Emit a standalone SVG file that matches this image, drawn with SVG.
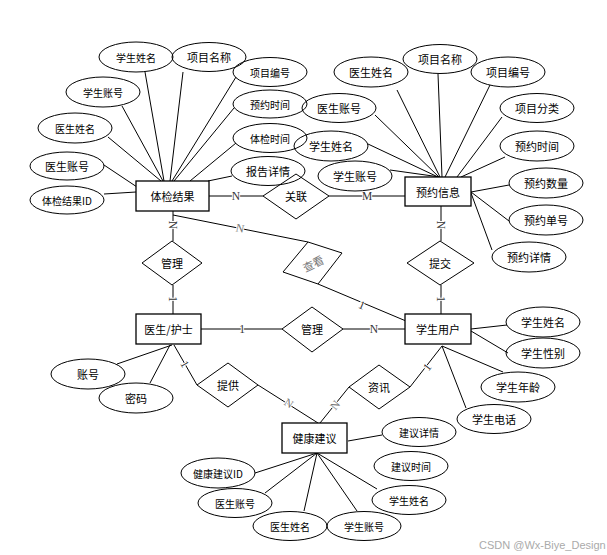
<svg xmlns="http://www.w3.org/2000/svg" width="607" height="555" viewBox="0 0 607 555">
<style>
.e{fill:none;stroke:#000;stroke-width:1}
.r{fill:#fff;stroke:#000;stroke-width:1.3}
.d{fill:none;stroke:#000;stroke-width:1}
.l line,.l polyline{stroke:#000;stroke-width:1;fill:none}
text{font-family:"Noto Sans CJK SC","Liberation Sans",sans-serif;font-size:11px;text-anchor:middle;dominant-baseline:central;fill:#000}
.s{font-size:10px}
.c{font-family:"Liberation Serif",serif;font-size:11.5px;paint-order:stroke;stroke:#fff;stroke-width:2;fill:#333}
.g{fill:#777}
.w{font-family:"Liberation Sans",sans-serif;font-size:11px;fill:#aaa;text-anchor:start}
</style>
<rect width="607" height="555" fill="#fff"/>
<g id="connectors" class="l">
<line x1="145" y1="72" x2="164" y2="181"/>
<line x1="183" y1="72" x2="170" y2="181"/>
<line x1="236" y1="77" x2="172" y2="181"/>
<line x1="122" y1="106" x2="163" y2="181"/>
<line x1="234" y1="108" x2="174" y2="181"/>
<line x1="108" y1="137" x2="161" y2="181"/>
<line x1="236" y1="143" x2="190" y2="181"/>
<line x1="104" y1="165" x2="137" y2="187"/>
<line x1="232" y1="176" x2="208" y2="181"/>
<line x1="104" y1="194" x2="136" y2="192"/>
<line x1="397" y1="90" x2="440" y2="177"/>
<line x1="438" y1="74" x2="442" y2="177"/>
<line x1="490" y1="85" x2="445" y2="177"/>
<line x1="375" y1="115" x2="439" y2="177"/>
<line x1="502" y1="117" x2="457" y2="177"/>
<line x1="368" y1="144" x2="438" y2="177"/>
<line x1="505" y1="157" x2="461" y2="177"/>
<line x1="390" y1="170" x2="440" y2="177"/>
<line x1="471" y1="192" x2="509" y2="185"/>
<line x1="471" y1="192" x2="509" y2="221"/>
<line x1="471" y1="193" x2="492" y2="250"/>
<line x1="471" y1="329" x2="507" y2="325"/>
<line x1="471" y1="331" x2="508" y2="353"/>
<line x1="442" y1="346" x2="503" y2="372"/>
<line x1="442" y1="346" x2="466" y2="408"/>
<line x1="117" y1="364" x2="172" y2="345"/>
<line x1="150" y1="383" x2="170" y2="345"/>
<line x1="348" y1="441" x2="382" y2="435"/>
<line x1="255" y1="473" x2="317" y2="453"/>
<line x1="265" y1="493" x2="317" y2="453"/>
<line x1="304" y1="511" x2="317" y2="453"/>
<line x1="357" y1="511" x2="317" y2="453"/>
<line x1="377" y1="489" x2="317" y2="453"/>
<line x1="209" y1="196" x2="263" y2="196"/>
<line x1="329" y1="196" x2="405" y2="196"/>
<line x1="173" y1="211" x2="173" y2="241"/>
<line x1="173" y1="285" x2="173" y2="314"/>
<line x1="441" y1="206" x2="441" y2="241"/>
<line x1="441" y1="285" x2="441" y2="314"/>
<line x1="201" y1="329" x2="282" y2="329"/>
<line x1="343" y1="329" x2="405" y2="329"/>
<line x1="174" y1="345" x2="197" y2="385"/>
<line x1="258" y1="385" x2="318" y2="423"/>
<line x1="349" y1="387" x2="320" y2="423"/>
<line x1="410" y1="387" x2="442" y2="346"/>
<line x1="173" y1="215" x2="308" y2="242"/>
<line x1="318" y1="284" x2="406" y2="321"/>
<text class="c" x="236" y="196">N</text>
<text class="c" x="367" y="196">M</text>
<text class="c" transform="translate(173,225) rotate(90)">N</text>
<text class="c" transform="translate(173,299) rotate(90)">1</text>
<text class="c" transform="translate(441,225) rotate(90)">N</text>
<text class="c" transform="translate(441,299) rotate(90)">1</text>
<text class="c" x="242" y="329">1</text>
<text class="c" x="374" y="329">N</text>
<text class="c" transform="translate(185,364) rotate(60)">1</text>
<text class="c g" transform="translate(289,403) rotate(32)">N</text>
<text class="c g" transform="translate(335,405) rotate(-51)">N</text>
<text class="c" transform="translate(427,367) rotate(-52)">1</text>
<text class="c g" transform="translate(240,228) rotate(11)">N</text>
<text class="c" transform="translate(362,305) rotate(23)">1</text>
</g>
<g id="tj_xsxm"><ellipse class="e" cx="136" cy="57" rx="37" ry="15"/><text class="s" x="136" y="57">学生姓名</text></g>
<g id="tj_xmmc"><ellipse class="e" cx="209" cy="57" rx="37" ry="14.5"/><text x="209" y="57">项目名称</text></g>
<g id="tj_xmbh"><ellipse class="e" cx="270" cy="72" rx="37" ry="14.5"/><text class="s" x="270" y="72">项目编号</text></g>
<g id="tj_xszh"><ellipse class="e" cx="103" cy="92" rx="37" ry="15"/><text class="s" x="103" y="92">学生账号</text></g>
<g id="tj_yysj"><ellipse class="e" cx="270" cy="104" rx="37" ry="14"/><text class="s" x="270" y="104">预约时间</text></g>
<g id="tj_ysxm"><ellipse class="e" cx="75" cy="128" rx="37" ry="15"/><text class="s" x="75" y="128">医生姓名</text></g>
<g id="tj_tjsj"><ellipse class="e" cx="270" cy="138" rx="37" ry="14.5"/><text class="s" x="270" y="138">体检时间</text></g>
<g id="tj_yszh"><ellipse class="e" cx="67" cy="166" rx="37" ry="14"/><text x="67" y="166">医生账号</text></g>
<g id="tj_bgxq"><ellipse class="e" cx="268" cy="171" rx="37" ry="14.5"/><text x="268" y="171">报告详情</text></g>
<g id="tj_id"><ellipse class="e" cx="67" cy="200" rx="37" ry="14"/><text class="s" x="67" y="200">体检结果ID</text></g>
<g id="yy_ysxm"><ellipse class="e" cx="371" cy="72" rx="37" ry="15"/><text x="371" y="72">医生姓名</text></g>
<g id="yy_xmmc"><ellipse class="e" cx="440" cy="59" rx="37" ry="14.5"/><text x="440" y="59">项目名称</text></g>
<g id="yy_xmbh"><ellipse class="e" cx="508" cy="72" rx="37" ry="15"/><text x="508" y="72">项目编号</text></g>
<g id="yy_yszh"><ellipse class="e" cx="339" cy="108" rx="37" ry="14.5"/><text x="339" y="108">医生账号</text></g>
<g id="yy_xmfl"><ellipse class="e" cx="537" cy="108" rx="37" ry="14.5"/><text x="537" y="108">项目分类</text></g>
<g id="yy_xsxm"><ellipse class="e" cx="331" cy="146" rx="37" ry="15"/><text x="331" y="146">学生姓名</text></g>
<g id="yy_yysj"><ellipse class="e" cx="537" cy="146" rx="37" ry="15"/><text x="537" y="146">预约时间</text></g>
<g id="yy_xszh"><ellipse class="e" cx="355" cy="176" rx="37" ry="15"/><text x="355" y="176">学生账号</text></g>
<g id="yy_yysl"><ellipse class="e" cx="546" cy="183" rx="37" ry="15"/><text x="546" y="183">预约数量</text></g>
<g id="yy_yydh"><ellipse class="e" cx="546" cy="220" rx="37" ry="15"/><text x="546" y="220">预约单号</text></g>
<g id="yy_yyxq"><ellipse class="e" cx="529" cy="257" rx="37" ry="15"/><text x="529" y="257">预约详情</text></g>
<g id="xs_xsxm"><ellipse class="e" cx="543" cy="322" rx="37" ry="15"/><text x="543" y="322">学生姓名</text></g>
<g id="xs_xsxb"><ellipse class="e" cx="543" cy="353" rx="37" ry="15"/><text x="543" y="353">学生性别</text></g>
<g id="xs_xsnl"><ellipse class="e" cx="518" cy="387" rx="37" ry="15"/><text x="518" y="387">学生年龄</text></g>
<g id="xs_xsdh"><ellipse class="e" cx="494" cy="419" rx="37" ry="14.5"/><text x="494" y="419">学生电话</text></g>
<g id="ys_zh"><ellipse class="e" cx="88" cy="374" rx="37" ry="15"/><text x="88" y="374">账号</text></g>
<g id="ys_mm"><ellipse class="e" cx="136" cy="398" rx="37" ry="15"/><text x="136" y="398">密码</text></g>
<g id="jk_jyxq"><ellipse class="e" cx="419" cy="432" rx="37" ry="14.5"/><text class="s" x="419" y="432">建议详情</text></g>
<g id="jk_jysj"><ellipse class="e" cx="411" cy="466" rx="37" ry="14.5"/><text class="s" x="411" y="466">建议时间</text></g>
<g id="jk_id"><ellipse class="e" cx="218" cy="473" rx="37" ry="15"/><text class="s" x="218" y="473">健康建议ID</text></g>
<g id="jk_yszh"><ellipse class="e" cx="235" cy="503" rx="37" ry="14.5"/><text class="s" x="235" y="503">医生账号</text></g>
<g id="jk_xsxm"><ellipse class="e" cx="409" cy="500" rx="37" ry="14.5"/><text class="s" x="409" y="500">学生姓名</text></g>
<g id="jk_ysxm"><ellipse class="e" cx="290" cy="526" rx="37" ry="14.5"/><text class="s" x="290" y="526">医生姓名</text></g>
<g id="jk_xszh"><ellipse class="e" cx="364" cy="526" rx="37" ry="14.5"/><text class="s" x="364" y="526">学生账号</text></g>
<g id="tjjg"><rect class="r" x="136" y="181" width="73" height="30"/><text x="172.5" y="196">体检结果</text></g>
<g id="yyxx"><rect class="r" x="405" y="177" width="66" height="29"/><text x="438" y="191.5">预约信息</text></g>
<g id="yshs"><rect class="r" x="136" y="314" width="65" height="30"/><text x="168.5" y="329">医生/护士</text></g>
<g id="xsyh"><rect class="r" x="405" y="314" width="66" height="30"/><text x="438" y="329">学生用户</text></g>
<g id="jkjy"><rect class="r" x="282" y="423" width="65" height="30"/><text x="314.5" y="438">健康建议</text></g>
<g id="guanlian"><polygon class="d" points="263,196 296,174 329,196 296,219"/><text x="296" y="196">关联</text></g>
<g id="guanli1"><polygon class="d" points="142,263 172,241 202,263 172,285"/><text x="172" y="263">管理</text></g>
<g id="tijiao"><polygon class="d" points="407,263 440,241 474,263 440,285"/><text x="440" y="263">提交</text></g>
<g id="chakan"><polygon class="d" points="308,242 342,253 318,284 283,272"/><text class="g" transform="translate(313,263) rotate(-25)">查看</text></g>
<g id="guanli2"><polygon class="d" points="282,329 312,307 343,329 312,352"/><text x="312" y="329">管理</text></g>
<g id="tigong"><polygon class="d" points="197,385 228,363 258,385 228,407"/><text x="228" y="385">提供</text></g>
<g id="zixun"><polygon class="d" points="349,387 379,365 410,387 379,409"/><text x="379" y="387">资讯</text></g>
<text class="w" x="479" y="545">CSDN @Wx-Biye_Design</text>
</svg>
